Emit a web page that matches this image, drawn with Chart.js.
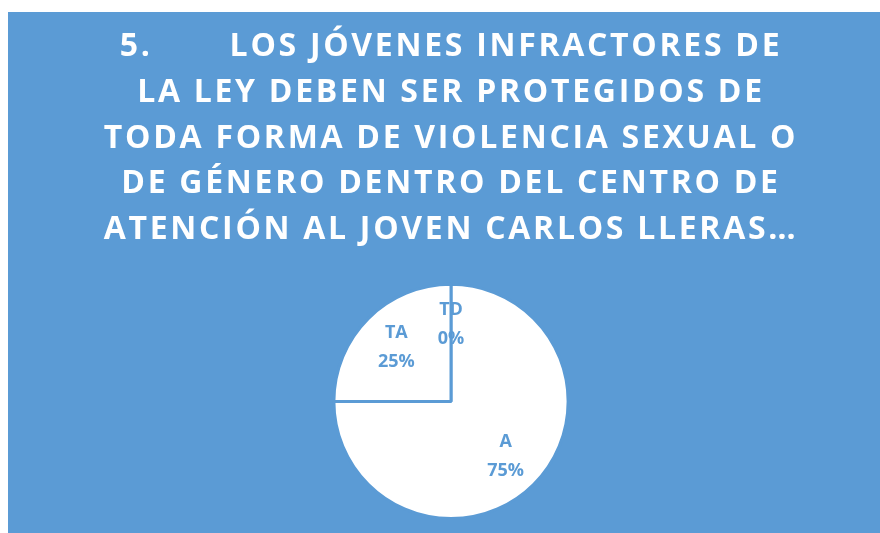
<!DOCTYPE html>
<html>
<head>
<meta charset="utf-8">
<script src="https://cdn.jsdelivr.net/npm/chart.js@4"></script>
<style>
  html, body { margin: 0; padding: 0; background: #ffffff; }
  #box { position: absolute; left: 8px; top: 12px; width: 872px; height: 521px; background: #5B9BD5; }
</style>
</head>
<body>
<div id="box"><canvas id="pieChart"></canvas></div>
<script>
// data
const categories = ["TD", "A", "TA"];
const percents = [0, 75, 25];
const titleLines = [
    "5.       LOS JÓVENES INFRACTORES DE",
    "LA LEY DEBEN SER PROTEGIDOS DE",
    "TODA FORMA DE VIOLENCIA SEXUAL O",
    "DE GÉNERO DENTRO DEL CENTRO DE",
    "ATENCIÓN AL JOVEN CARLOS LLERAS…"
];

const blue = "#5B9BD5";

// letter spacing for the title, like the original
const spacingPlugin = {
    id: "spacing",
    beforeDraw(chart) { chart.ctx.letterSpacing = "2.7px"; }
};

// labels inside the slices
const sliceLabels = {
    id: "sliceLabels",
    afterDatasetsDraw(chart) {
        const ctx = chart.ctx;
        const total = percents.reduce((a, b) => a + b, 0);
        ctx.save();
        ctx.letterSpacing = "0px";
        ctx.fillStyle = blue;
        ctx.font = "bold 18px 'Open Sans'";
        ctx.textAlign = "center";
        ctx.textBaseline = "middle";
        chart.getDatasetMeta(0).data.forEach((arc, i) => {
            const mid = (arc.startAngle + arc.endAngle) / 2;
            const r = arc.outerRadius * 0.66;
            const x = arc.x + Math.cos(mid) * r;
            const y = arc.y + Math.sin(mid) * r;
            ctx.fillText(categories[i], x, y - 14);
            ctx.fillText(Math.round(percents[i] / total * 100) + "%", x, y + 15);
        });
        ctx.restore();
    }
};

new Chart(document.getElementById("pieChart"), {
    type: "pie",
    data: {
        labels: categories,
        datasets: [{
            data: percents,
            backgroundColor: "#ffffff",
            borderColor: blue,
            borderWidth: 3
        }]
    },
    options: {
        responsive: true,
        maintainAspectRatio: false,
        animation: false,
        layout: { padding: { left: 14, right: 0, top: 0, bottom: 13 } },
        plugins: {
            legend: { display: false },
            tooltip: { enabled: false },
            title: {
                display: true,
                text: titleLines,
                color: "#ffffff",
                font: { family: "'Open Sans'", weight: "bold", size: 32, lineHeight: 1.43 },
                padding: { top: 12, bottom: 30 }
            }
        }
    },
    plugins: [spacingPlugin, sliceLabels]
});
</script>
</body>
</html>
